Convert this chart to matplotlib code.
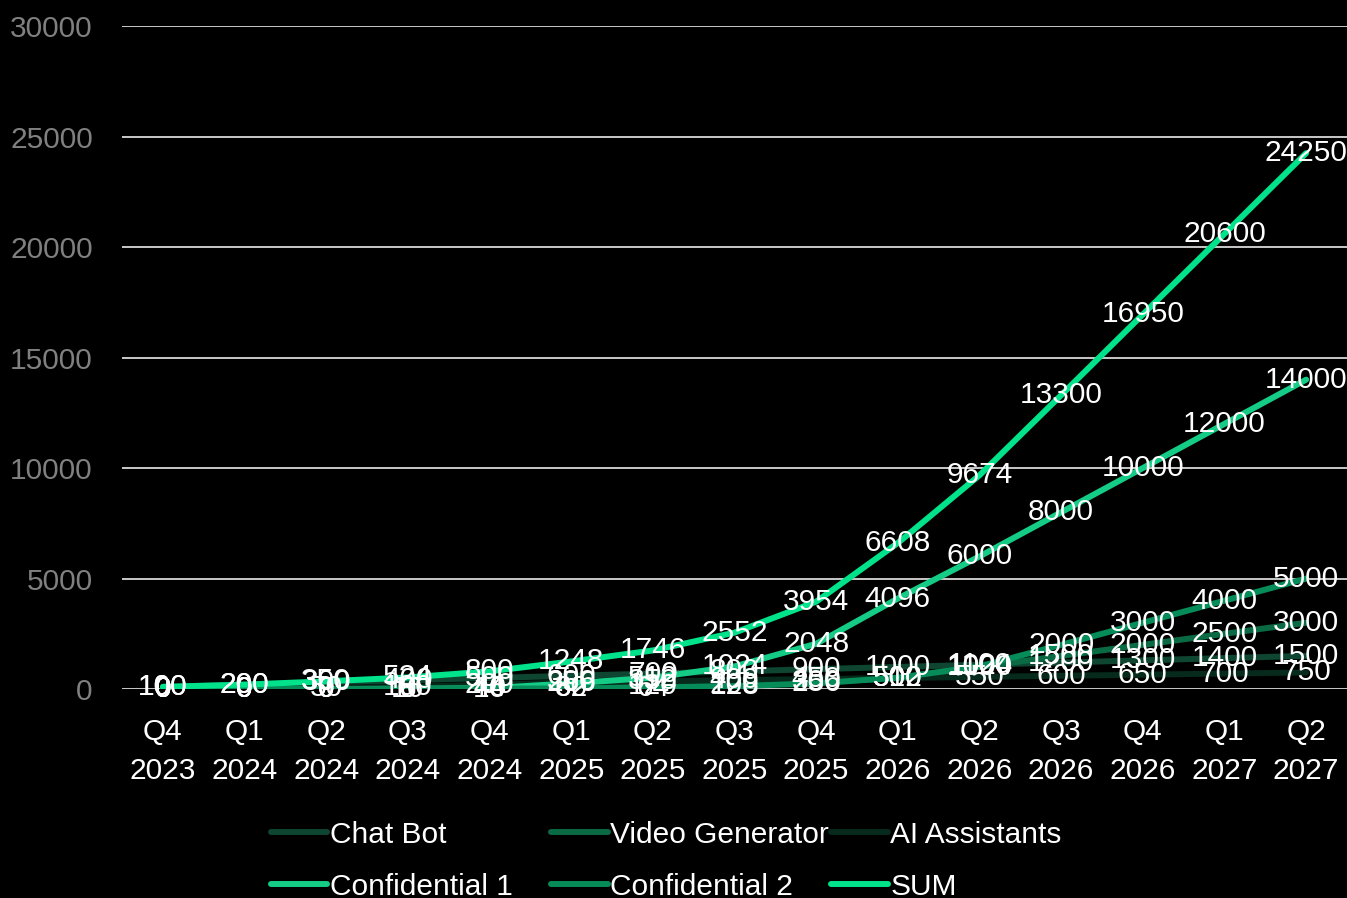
#!/usr/bin/env python

# Quarterly projection: five products plus their sum, with value labels.

import matplotlib
from matplotlib.backends.backend_agg import FigureCanvasAgg as FigureCanvas
from matplotlib.figure import Figure
from matplotlib.lines import Line2D

quarters = ['Q4\n2023', 'Q1\n2024', 'Q2\n2024', 'Q3\n2024', 'Q4\n2024',
            'Q1\n2025', 'Q2\n2025', 'Q3\n2025', 'Q4\n2025', 'Q1\n2026',
            'Q2\n2026', 'Q3\n2026', 'Q4\n2026', 'Q1\n2027', 'Q2\n2027']

chat_bot = [100, 200, 300, 400, 500, 600, 700, 800, 900, 1000,
            1100, 1200, 1300, 1400, 1500]
video_generator = [0, 0, 0, 0, 44, 60, 120, 200, 300, 500,
                   1000, 1500, 2000, 2500, 3000]
ai_assistants = [0, 0, 50, 100, 200, 300, 350, 400, 450, 500,
                 550, 600, 650, 700, 750]
confidential_1 = [0, 0, 0, 16, 40, 256, 512, 1024, 2048, 4096,
                  6000, 8000, 10000, 12000, 14000]
confidential_2 = [0, 0, 0, 8, 16, 32, 64, 128, 256, 512,
                  1024, 2000, 3000, 4000, 5000]
total = [100, 200, 350, 524, 800, 1248, 1746, 2552, 3954, 6608,
         9674, 13300, 16950, 20600, 24250]

series = [('Chat Bot', chat_bot, '#0e4631'),
          ('Video Generator', video_generator, '#0a6a44'),
          ('AI Assistants', ai_assistants, '#062a1c'),
          ('Confidential 1', confidential_1, '#14cc86'),
          ('Confidential 2', confidential_2, '#068c58'),
          ('SUM', total, '#00e38a')]

fsize = 21.5
font = {'family': 'sans-serif',
        'sans-serif': 'Liberation Sans',
        'weight': 'normal',
        'size': fsize}
matplotlib.rc('font', **font)

fig = Figure(figsize=(13.47, 8.98), dpi=100, facecolor='black')
canvas = FigureCanvas(fig)

ax = fig.add_axes([0.0906, 0.2327, 0.9094, 0.7383])
ax.set_facecolor('black')
ax.set_xlim(-0.5, len(quarters) - 0.5)
ax.set_ylim(0, 30000)
ax.set_yticks(range(0, 30001, 5000))
ax.set_xticks(range(len(quarters)))
ax.set_xticklabels(quarters, color='white', linespacing=1.47)
ax.tick_params(axis='y', length=0, pad=21, colors='#808080')
ax.tick_params(axis='x', length=0, pad=21, colors='white')
for side in ax.spines.values():
    side.set_visible(False)
ax.yaxis.grid(True, color='#d9d9d9', linewidth=1.3)
ax.set_axisbelow(True)

xs = list(range(len(quarters)))
handles = []
for name, vals, col in series:
    ax.plot(xs, vals, color=col, linewidth=4.3, solid_capstyle='round',
            zorder=3)
    handles.append(Line2D([], [], color=col, linewidth=4.3,
                          solid_capstyle='round', label=name))

# Data labels centred on each point
for name, vals, col in series:
    for x, v in zip(xs, vals):
        ax.text(x, v, str(v), color='white', ha='center', va='center',
                fontsize=fsize, zorder=10)

# Legend: three columns of two entries each
col_x = [0.201, 0.409, 0.617]
for i in range(3):
    fig.legend(handles=[handles[i], handles[i + 3]],
               loc='upper left', bbox_to_anchor=(col_x[i], 0.086),
               frameon=False, labelcolor='white', fontsize=fsize,
               handlelength=1.9, handletextpad=0.08,
               labelspacing=0.8, borderpad=0, borderaxespad=0)

fig.savefig('out.png', facecolor='black')
